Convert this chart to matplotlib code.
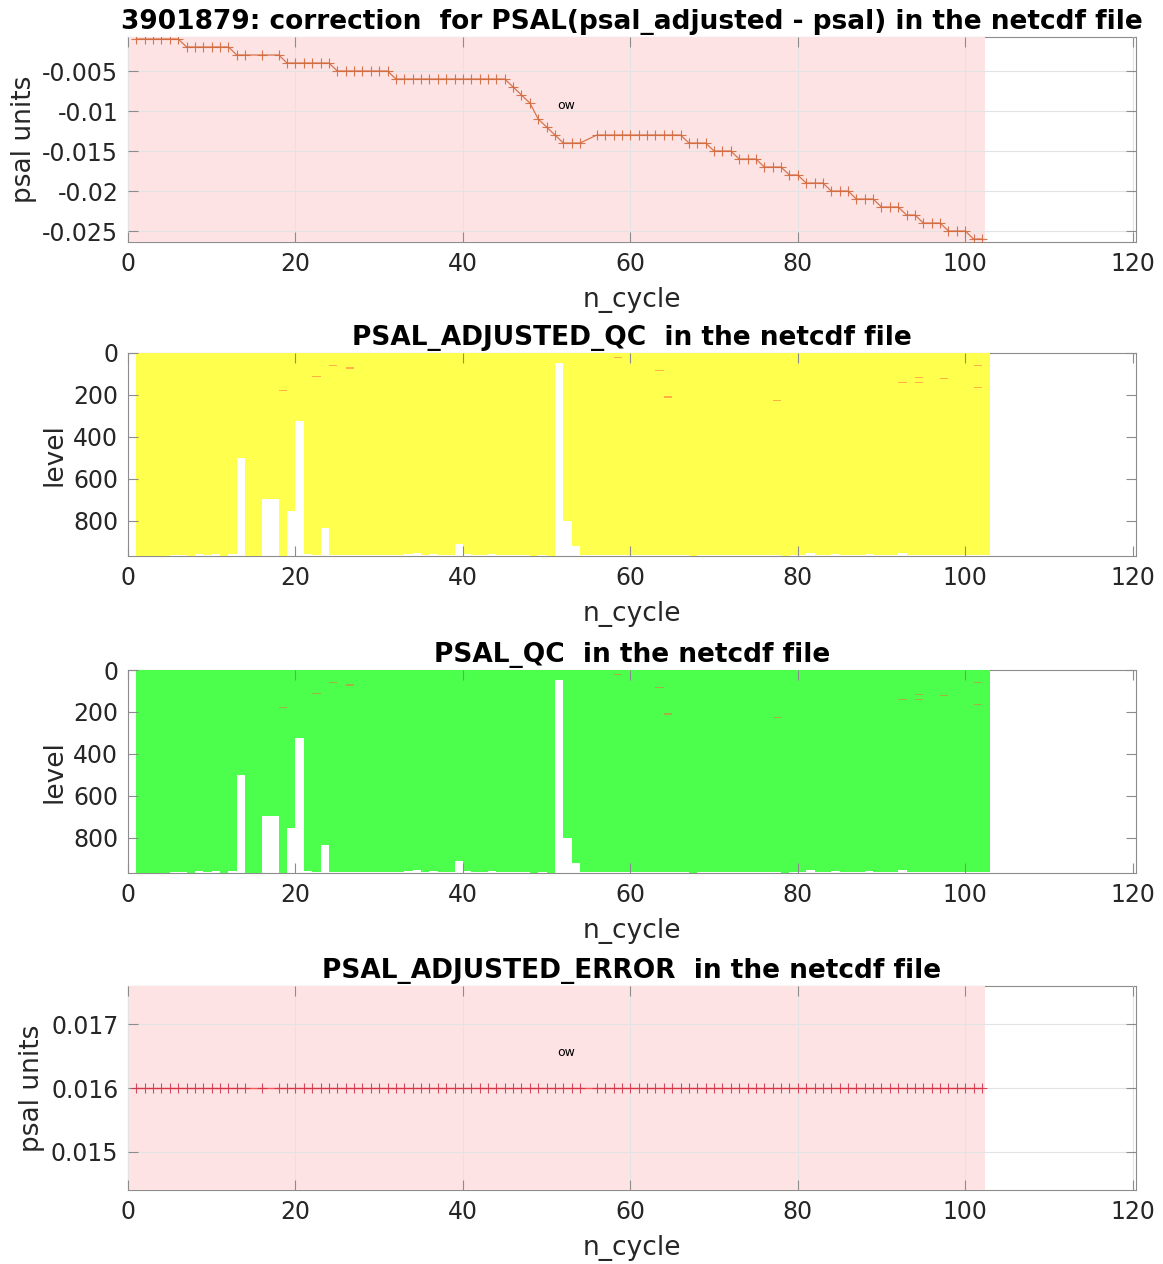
import matplotlib
matplotlib.use('Agg')
import matplotlib.pyplot as plt
from matplotlib.ticker import FuncFormatter

float_id = '3901879'

cycles = [1, 2, 3, 4, 5, 6, 7, 8, 9, 10, 11, 12, 13, 14,
          16, 18,
          19, 20, 21, 22, 23, 24, 25, 26, 27, 28, 29, 30,
          31, 32, 33, 34, 35, 36, 37, 38, 39, 40, 41, 42,
          43, 44, 45, 46, 47, 48, 49, 50, 51, 52, 53, 54,
          56, 57, 58, 59, 60, 61, 62, 63, 64, 65, 66,
          67, 68, 69, 70, 71, 72, 73, 74, 75, 76, 77, 78,
          79, 80, 81, 82, 83, 84, 85, 86, 87, 88, 89, 90,
          91, 92, 93, 94, 95, 96, 97, 98, 99, 100, 101, 102]

# psal_adjusted - psal
psal_correction = [-0.001, -0.001, -0.001, -0.001, -0.001, -0.001, -0.002, -0.002, -0.002, -0.002, -0.002, -0.002, -0.003, -0.003,
                   -0.003, -0.003,
                   -0.004, -0.004, -0.004, -0.004, -0.004, -0.004, -0.005, -0.005, -0.005, -0.005, -0.005, -0.005,
                   -0.005, -0.006, -0.006, -0.006, -0.006, -0.006, -0.006, -0.006, -0.006, -0.006, -0.006, -0.006,
                   -0.006, -0.006, -0.006, -0.007, -0.008, -0.009, -0.011, -0.012, -0.013, -0.014, -0.014, -0.014,
                   -0.013, -0.013, -0.013, -0.013, -0.013, -0.013, -0.013, -0.013, -0.013, -0.013, -0.013,
                   -0.014, -0.014, -0.014, -0.015, -0.015, -0.015, -0.016, -0.016, -0.016, -0.017, -0.017, -0.017,
                   -0.018, -0.018, -0.019, -0.019, -0.019, -0.020, -0.020, -0.020, -0.021, -0.021, -0.021, -0.022,
                   -0.022, -0.022, -0.023, -0.023, -0.024, -0.024, -0.024, -0.025, -0.025, -0.025, -0.026, -0.026]

psal_adj_error = [0.016, 0.016, 0.016, 0.016, 0.016, 0.016, 0.016, 0.016, 0.016, 0.016, 0.016, 0.016, 0.016, 0.016,
                  0.016, 0.016,
                  0.016, 0.016, 0.016, 0.016, 0.016, 0.016, 0.016, 0.016, 0.016, 0.016, 0.016, 0.016,
                  0.016, 0.016, 0.016, 0.016, 0.016, 0.016, 0.016, 0.016, 0.016, 0.016, 0.016, 0.016,
                  0.016, 0.016, 0.016, 0.016, 0.016, 0.016, 0.016, 0.016, 0.016, 0.016, 0.016, 0.016,
                  0.016, 0.016, 0.016, 0.016, 0.016, 0.016, 0.016, 0.016, 0.016, 0.016, 0.016,
                  0.016, 0.016, 0.016, 0.016, 0.016, 0.016, 0.016, 0.016, 0.016, 0.016, 0.016, 0.016,
                  0.016, 0.016, 0.016, 0.016, 0.016, 0.016, 0.016, 0.016, 0.016, 0.016, 0.016, 0.016,
                  0.016, 0.016, 0.016, 0.016, 0.016, 0.016, 0.016, 0.016, 0.016, 0.016, 0.016, 0.016]

# deepest level of each profile (dbar)
profile_bottom = [967, 967, 967, 967, 962, 962, 968, 958, 962, 958, 965, 958, 500, 965,
                  695, 965,
                  752, 322, 958, 962, 835, 964, 962, 960, 962, 960, 962, 960,
                  962, 962, 958, 955, 962, 958, 962, 962, 910, 958, 962, 960,
                  958, 962, 960, 962, 960, 967, 962, 967, 49, 800, 920, 962,
                  962, 962, 962, 962, 962, 962, 960, 962, 962, 962, 962,
                  968, 962, 962, 962, 962, 960, 962, 962, 962, 962, 962, 968,
                  962, 962, 953, 962, 962, 958, 962, 962, 962, 958, 962, 962,
                  962, 955, 962, 960, 962, 962, 962, 962, 962, 960, 962, 962]

# points flagged bad (cycle, level)
bad_cycles = [18, 22, 24, 26, 58, 63, 64, 77, 92, 94, 94, 97, 101, 101]
bad_levels = [178, 112, 60, 71, 20, 82, 209, 228, 140, 117, 140, 120, 58, 166]

ow_range = [0, 102.4]

plt.rcParams['font.family'] = 'DejaVu Sans'
plt.rcParams['axes.unicode_minus'] = False

widths = [cycles[i + 1] - cycles[i] for i in range(len(cycles) - 1)] + [1]
w_of = dict(zip(cycles, widths))

fig = plt.figure(figsize=(11.63, 12.64), dpi=100)
left, width = 128 / 1163, 1008 / 1163
H = 1264
boxes = [(37, 242), (353, 556), (670, 873), (986, 1190)]
axs = [fig.add_axes([left, 1 - b / H, width, (b - t) / H]) for t, b in boxes]

spine_col = '#8c8c8c'
for ax in axs:
    for s in ax.spines.values():
        s.set_color(spine_col)
        s.set_zorder(0.1)
    ax.tick_params(direction='in', length=7, top=True, right=True, color=spine_col,
                   labelcolor='#262626', labelsize=17, pad=7)
    ax.set_xlim(0, 120.4)
    ax.set_xticks([0, 20, 40, 60, 80, 100, 120])
    ax.set_xlabel('n_cycle', fontsize=19, color='#262626', labelpad=8)

fmt = FuncFormatter(lambda v, p: '{:g}'.format(round(v, 4)))

# panel 1: correction
ax = axs[0]
ax.axvspan(ow_range[0], ow_range[1], color='#fde3e4', zorder=0.3, lw=0)
ax.plot(cycles, psal_correction, color='#d2693c', lw=0.9, marker='+', ms=7, mew=0.8, alpha=0.9, zorder=2)
ax.text(52.3, -0.0093, 'ow', fontsize=9, ha='center', va='center')
ax.set_ylim(-0.02637, -0.00075)
ax.set_yticks([-0.025, -0.02, -0.015, -0.01, -0.005])
ax.yaxis.set_major_formatter(fmt)
ax.grid(True, color='#e3e3e3', lw=0.8)
ax.set_axisbelow(True)
ax.set_ylabel('psal units', fontsize=19, color='#262626')
ax.set_title(float_id + ': correction  for PSAL(psal_adjusted - psal) in the netcdf file',
             fontsize=19, fontweight='bold')

# panels 2 and 3: QC maps
for ax, col, name in [(axs[1], '#ffff4d', 'PSAL_ADJUSTED_QC'), (axs[2], '#4dff4d', 'PSAL_QC')]:
    ax.bar(cycles, profile_bottom, width=widths, align='edge', color=col, lw=0,
           antialiased=False, zorder=1)
    ax.bar(bad_cycles, [6] * len(bad_cycles), bottom=[v - 3 for v in bad_levels],
           width=[w_of[c] for c in bad_cycles], align='edge', color='#ff6040', alpha=0.5,
           lw=0, zorder=2)
    ax.set_ylim(967, 0)
    ax.set_yticks([0, 200, 400, 600, 800])
    ax.set_ylabel('level', fontsize=19, color='#262626')
    ax.set_title(name + '  in the netcdf file', fontsize=19, fontweight='bold')

# panel 4: adjusted error
ax = axs[3]
ax.axvspan(ow_range[0], ow_range[1], color='#fde3e4', zorder=0.3, lw=0)
ax.plot(cycles, psal_adj_error, color='#ff4040', lw=1.0, marker='+', ms=7, mew=0.8,
        mec='#d03048', alpha=0.85, zorder=2)
ax.text(52.3, 0.01655, 'ow', fontsize=9, ha='center', va='center')
ax.set_ylim(0.014406, 0.017594)
ax.set_yticks([0.015, 0.016, 0.017])
ax.yaxis.set_major_formatter(fmt)
ax.grid(True, color='#e3e3e3', lw=0.8)
ax.set_axisbelow(True)
ax.set_ylabel('psal units', fontsize=19, color='#262626')
ax.set_title('PSAL_ADJUSTED_ERROR  in the netcdf file', fontsize=19, fontweight='bold')

fig.savefig('out.png', dpi=100)
